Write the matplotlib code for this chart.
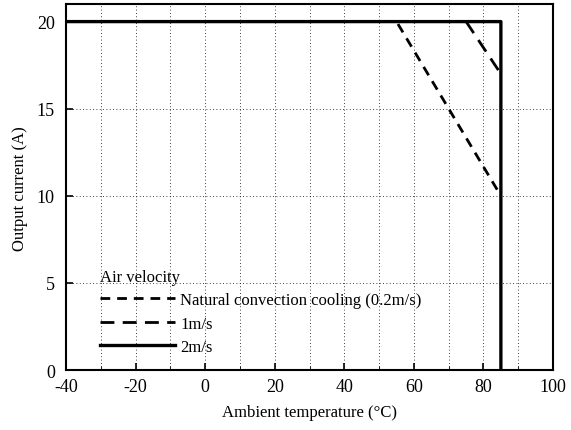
import matplotlib.pyplot as plt
import numpy as np

plt.rcParams['font.family'] = ['Liberation Serif', 'DejaVu Serif']
plt.rcParams['axes.unicode_minus'] = False

# derating curves (temperature in C, current in A)
nat_x = [-40, 55, 85]
nat_y = [20, 20, 10]
one_x = [-40, 75, 85]
one_y = [20, 20, 17]
two_x = [-40, 85, 85]
two_y = [20, 20, 0]

labels = ['Natural convection cooling (0.2m/s)', '1m/s', '2m/s']
xticks = [-40, -20, 0, 20, 40, 60, 80, 100]
yticks = [0, 5, 10, 15, 20]

fig = plt.figure(figsize=(5.71, 4.31), dpi=100)
ax = fig.add_axes([0.1156, 0.139, 0.853, 0.849])

ax.plot(nat_x, nat_y, color='k', lw=2, ls=(0, (3.5, 2.5)), label=labels[0],
        zorder=2, snap=False)
ax.plot(one_x, one_y, color='k', lw=2, ls=(0, (5, 3)), label=labels[1],
        zorder=2, snap=False)
ax.plot(two_x, two_y, color='k', lw=2.4, ls='-', label=labels[2],
        zorder=3, snap=False)

ax.set_xlim(-40, 100)
ax.set_ylim(0, 21)
ax.set_xticks(xticks)
ax.set_xticks(np.arange(-30, 100, 20), minor=True)
ax.set_yticks(yticks)
ax.tick_params(direction='in', labelsize=13, length=5, width=1.2)
ax.tick_params(axis='x', pad=6)
ax.tick_params(axis='y', pad=8)
ax.tick_params(which='minor', direction='in', length=3)

# dotted grid
for gx in range(-30, 100, 10):
    ax.axvline(gx, color='k', ls=(0, (1, 3)), lw=0.6, zorder=0)
for gy in [5, 10, 15]:
    ax.axhline(gy, color='k', ls=(0, (1, 3)), lw=0.6, zorder=0)

for s in ax.spines.values():
    s.set_linewidth(1.5)

ax.set_xlabel('Ambient temperature (\u00b0C)', fontsize=12, labelpad=6)
ax.set_ylabel('Output current (A)', fontsize=12, labelpad=6)

leg = ax.legend(title='Air velocity', loc='lower left', frameon=False,
                fontsize=12, title_fontsize=12, handlelength=4.5,
                handletextpad=0.3, borderaxespad=0.5, labelspacing=0.45,
                bbox_to_anchor=(0.04, 0.0))
leg._legend_box.align = 'left'

fig.savefig('out.png', dpi=100)
